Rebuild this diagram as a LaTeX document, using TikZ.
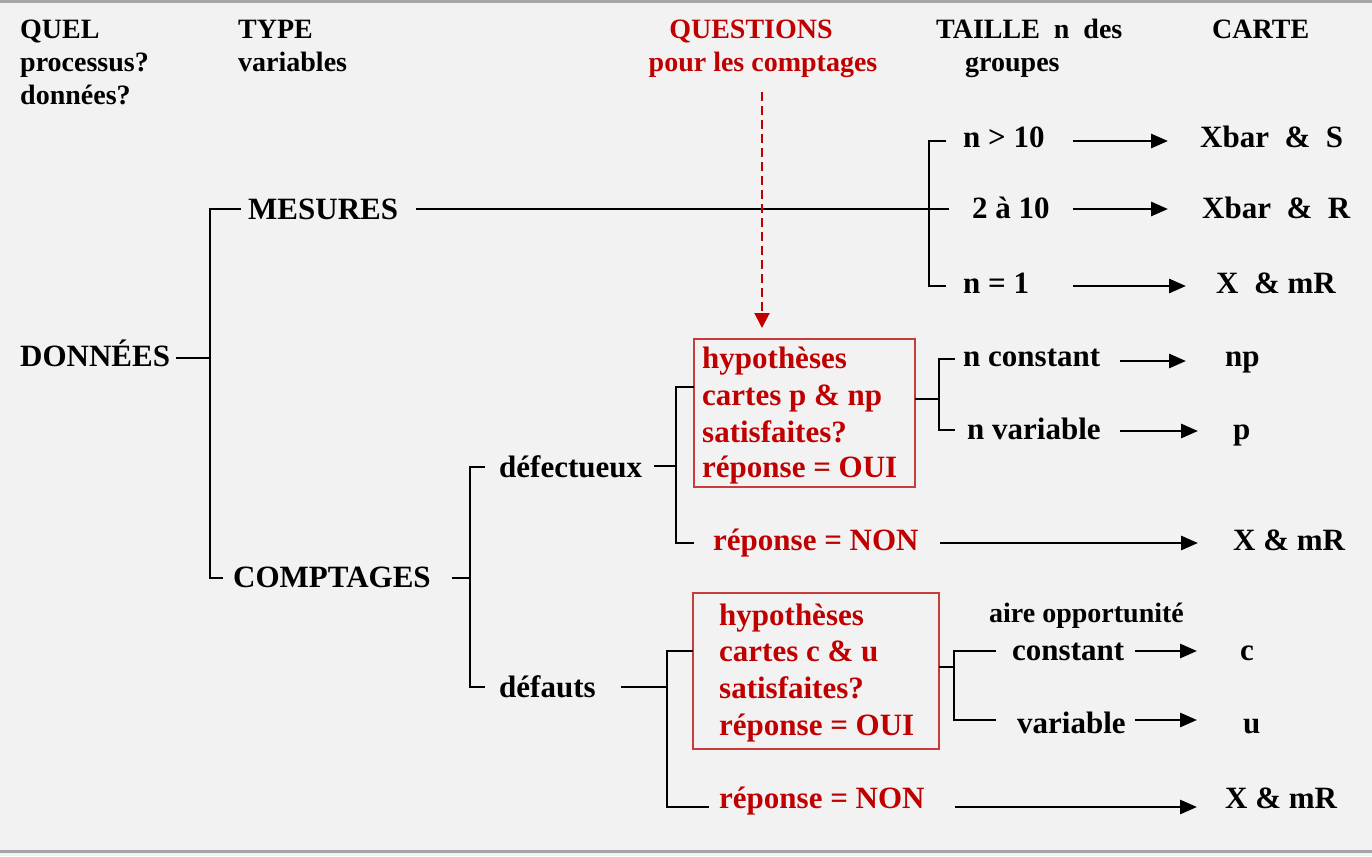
\documentclass[tikz,border=0pt]{standalone}
\usepackage{fontspec}
\setmainfont{Liberation Serif}
\usetikzlibrary{arrows.meta}
\definecolor{bgcol}{HTML}{F2F2F2}
\definecolor{rtext}{HTML}{C00000}
\definecolor{rbox}{HTML}{C83C3C}
\definecolor{rulecol}{HTML}{A6A6A6}
\begin{document}
\begin{tikzpicture}[x=1pt,y=-1pt,
  lbl/.style={inner sep=0pt, anchor=base west, font=\fontsize{31}{36}\selectfont\bfseries},
  rlbl/.style={lbl, text=rtext},
  hdr/.style={inner sep=0pt, anchor=base west, font=\fontsize{28}{33}\selectfont\bfseries},
  rhdr/.style={hdr, anchor=base, text=rtext},
  brk/.style={line width=2pt, line cap=rect},
  arr/.style={line width=2.8pt, -{Triangle[length=17pt,width=14pt]}},
  qarr/.style={line width=2pt, rtext, dash pattern=on 9pt off 5pt, -{Triangle[length=15pt,width=15pt]}},
  hbox/.style={draw=rbox, line width=2pt, inner sep=0pt}
]
% page and rules
\fill[bgcol] (0,0) rectangle (1372,856);
\useasboundingbox (0,0) rectangle (1372,856);
\draw[rulecol, line width=3pt] (0,2) -- (1372,2);
\draw[rulecol, line width=3pt] (0,851) -- (1372,851);

% column headings
\node[hdr] (h1a) at (20,39) {QUEL};
\node[hdr] (h1b) at (20,72) {processus?};
\node[hdr] (h1c) at (20,105) {données?};
\node[hdr] (h2a) at (238,39) {TYPE};
\node[hdr] (h2b) at (238,72) {variables};
\node[rhdr] (h3a) at (751,39) {QUESTIONS};
\node[rhdr] (h3b) at (763,72) {pour les comptages};
\node[hdr] (h4a) at (936,39) {TAILLE\ \ n\ \ des};
\node[hdr] (h4b) at (965,72) {groupes};
\node[hdr] (h5a) at (1212,39) {CARTE};

% main branches
\node[lbl] (donnees) at (20,366) {DONNÉES};
\node[lbl] (mesures) at (248,219) {MESURES};
\node[lbl] (comptages) at (233,587) {COMPTAGES};
\node[lbl] (defectueux) at (499,477) {défectueux};
\node[lbl] (defauts) at (499,697) {défauts};

% group sizes and charts for measurements
\node[lbl] (ngt) at (963,147) {n > 10};
\node[lbl] (nmid) at (972,218) {2 à 10};
\node[lbl] (none) at (963,293) {n = 1};
\node[lbl] (cxs) at (1200,147) {Xbar\ \ \&\ \ S};
\node[lbl] (cxr) at (1202,218) {Xbar\ \ \&\ \ R};
\node[lbl] (cxm1) at (1216,293) {X\ \ \& mR};

% defectives
\node[hbox, minimum width=221.5pt, minimum height=148pt] (box1) at (804.25,413) {};
\node[rlbl] (b1l1) at (702,368) {hypothèses};
\node[rlbl] (b1l2) at (702,405) {cartes p \& np};
\node[rlbl] (b1l3) at (702,442) {satisfaites?};
\node[rlbl] (b1l4) at (702,477) {réponse = OUI};
\node[lbl] (ncst) at (963,366) {n constant};
\node[lbl] (nvar) at (967,439) {n variable};
\node[lbl] (cnp) at (1225,366) {np};
\node[lbl] (cp) at (1233,439) {p};
\node[rlbl] (non1) at (713,550) {réponse = NON};
\node[lbl] (cxm2) at (1233,550) {X \& mR};

% defects
\node[hbox, minimum width=245.5pt, minimum height=156pt] (box2) at (815.75,671) {};
\node[rlbl] (b2l1) at (719,625) {hypothèses};
\node[rlbl] (b2l2) at (719,661) {cartes c \& u};
\node[rlbl] (b2l3) at (719,698) {satisfaites?};
\node[rlbl] (b2l4) at (719,735) {réponse = OUI};
\node[hdr] (aire) at (989,622) {aire opportunité};
\node[lbl] (acst) at (1012,660) {constant};
\node[lbl] (avar) at (1017,733) {variable};
\node[lbl] (cc) at (1240,660) {c};
\node[lbl] (cu) at (1243,733) {u};
\node[rlbl] (non2) at (719,808) {réponse = NON};
\node[lbl] (cxm3) at (1225,808) {X \& mR};

% bracket junctions
\coordinate (dEnd) at (177,358);
\coordinate (dTop) at (210,209);
\coordinate (dBot) at (210,578);
\coordinate (mStart) at (417,209);
\coordinate (mEnd) at (948,209);
\coordinate (sTop) at (929,141);
\coordinate (sBot) at (929,286);
\coordinate (cStart) at (453,578);
\coordinate (cTop) at (470,467);
\coordinate (cBot) at (470,687);
\coordinate (fStart) at (655,466);
\coordinate (fTop) at (676,387);
\coordinate (fBot) at (676,543);
\coordinate (pTop) at (939,359);
\coordinate (pBot) at (939,430);
\coordinate (uStart) at (622,687);
\coordinate (uTop) at (667,651);
\coordinate (uBot) at (667,807);
\coordinate (aTop) at (954,651);
\coordinate (aBot) at (954,720);

% brackets
\draw[brk] (dEnd) -- (dTop |- dEnd);
\draw[brk] (240,209) -- (dTop) -- (dBot) -- (222,578);
\draw[brk] (mStart) -- (mEnd);
\draw[brk] (945,141) -- (sTop) -- (sBot) -- (945,286);
\draw[brk] (cStart) -- (cTop |- cStart);
\draw[brk] (484,467) -- (cTop) -- (cBot) -- (484,687);
\draw[brk] (fStart) -- (fTop |- fStart);
\draw[brk] (box1.west |- fTop) -- (fTop) -- (fBot) -- (693,543);
\draw[brk] (box1.east |- 0,399) -- (pTop |- 0,399);
\draw[brk] (954,359) -- (pTop) -- (pBot) -- (954,430);
\draw[brk] (uStart) -- (uTop |- uStart);
\draw[brk] (box2.west |- uTop) -- (uTop) -- (uBot) -- (708,807);
\draw[brk] (box2.east |- 0,667) -- (aTop |- 0,667);
\draw[brk] (995,651) -- (aTop) -- (aBot) -- (995,720);

% arrows to the charts
\coordinate (a1s) at (1073,141); \coordinate (a1e) at (1168,141);
\coordinate (a2s) at (1073,209); \coordinate (a2e) at (1168,209);
\coordinate (a3s) at (1073,286); \coordinate (a3e) at (1186,286);
\coordinate (a4s) at (1120,361); \coordinate (a4e) at (1186,361);
\coordinate (a5s) at (1120,431); \coordinate (a5e) at (1198,431);
\coordinate (a6s) at (940,543);  \coordinate (a6e) at (1198,543);
\coordinate (a7s) at (1135,651); \coordinate (a7e) at (1197,651);
\coordinate (a8s) at (1135,720); \coordinate (a8e) at (1197,720);
\coordinate (a9s) at (955,807);  \coordinate (a9e) at (1197,807);
\foreach \k in {1,...,9} \draw[arr] (a\k s) -- (a\k e);

% question pointer
\coordinate (qs) at (762,92);
\coordinate (qe) at (762,328);
\draw[qarr] (qs) -- (qe);
\end{tikzpicture}
\end{document}
